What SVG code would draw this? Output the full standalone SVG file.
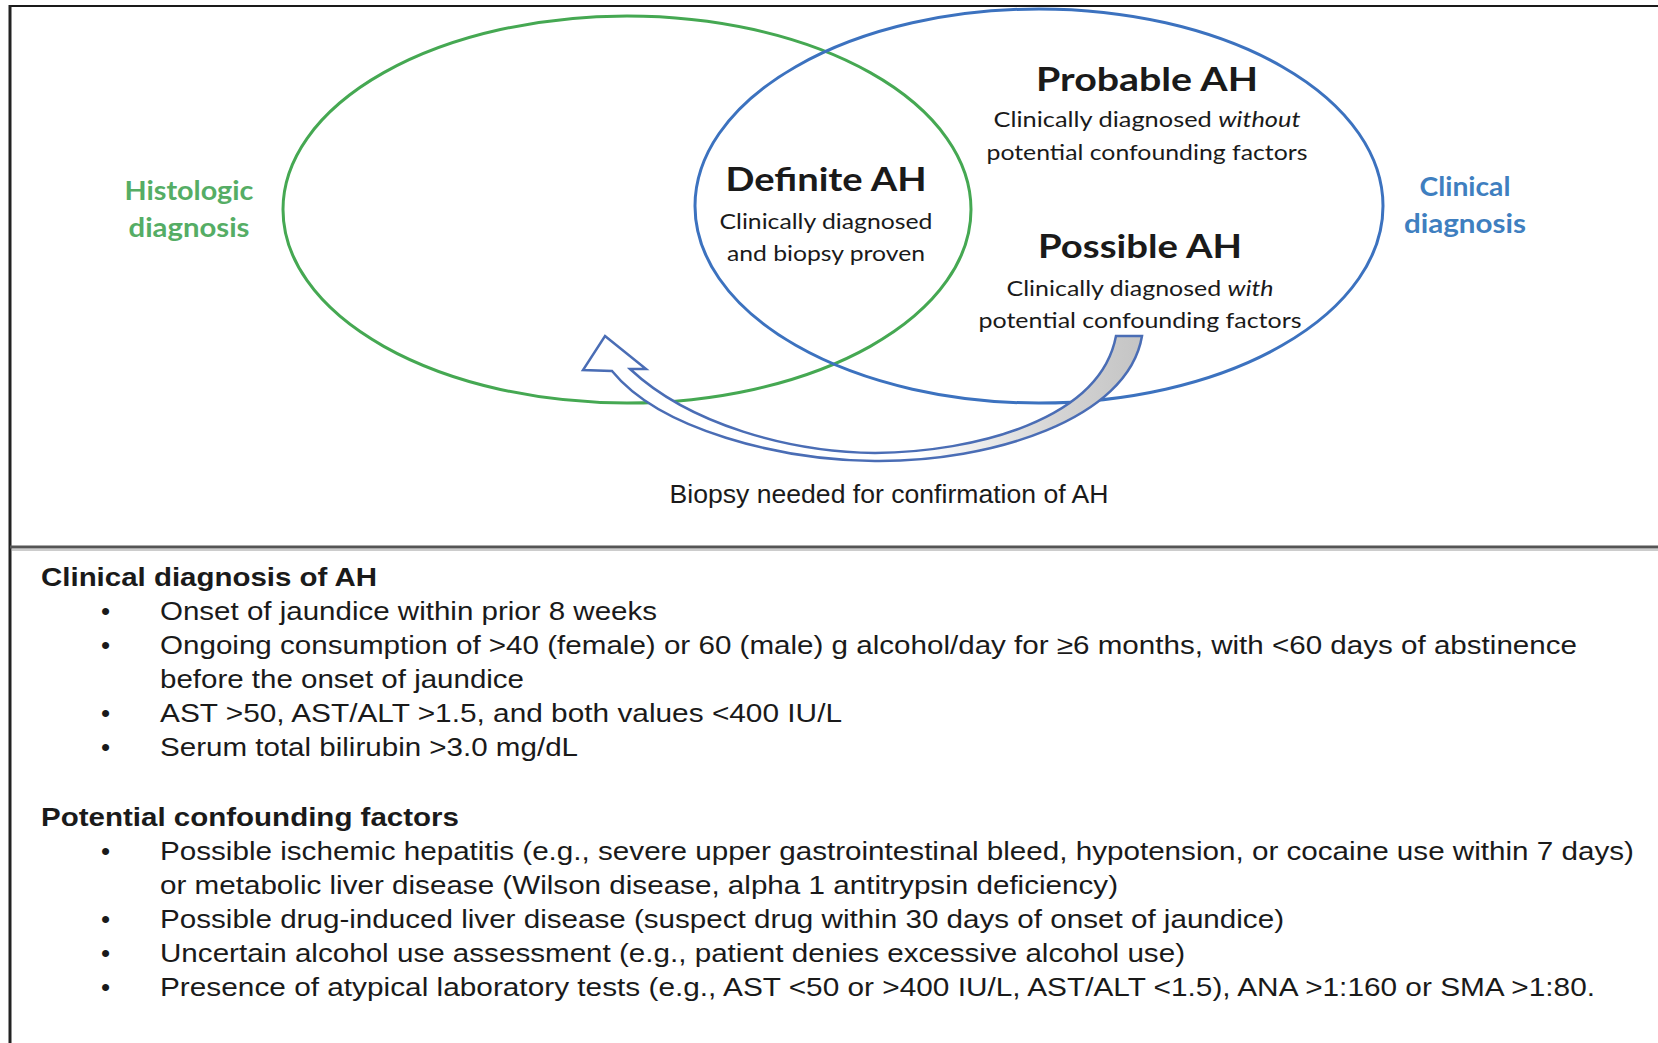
<svg xmlns="http://www.w3.org/2000/svg" width="1658" height="1043" viewBox="0 0 1658 1043">
  <style>
    .cal { font-family: Lato, "Open Sans", "Liberation Sans", sans-serif; fill: #1a1a1a; text-anchor: middle; }
    .title { font-weight: bold; font-size: 33px; }
    .sub { font-size: 22px; }
    .green { fill: #55ad65; font-weight: bold; font-size: 27px; }
    .blue { fill: #3f7fc0; font-weight: bold; font-size: 27px; }
    .ar { font-family: "Liberation Sans", Arial, sans-serif; fill: #1a1a1a; font-size: 26px; }
    .hd { font-weight: bold; }
  </style>
  <defs>
    <linearGradient id="arrowFill" x1="583" y1="0" x2="1142" y2="0" gradientUnits="userSpaceOnUse">
      <stop offset="0" stop-color="#ffffff"/>
      <stop offset="0.6" stop-color="#ffffff"/>
      <stop offset="0.85" stop-color="#d4d4d4"/>
      <stop offset="1" stop-color="#c4c4c4"/>
    </linearGradient>
  </defs>
  <rect width="1658" height="1043" fill="#ffffff"/>

  <!-- frame -->
  <g id="frame" fill="none">
    <line x1="9" y1="6" x2="1658" y2="6" stroke="#1a1a1a" stroke-width="2"/>
    <line x1="10" y1="5" x2="10" y2="1043" stroke="#222" stroke-width="3"/>
    <line x1="10" y1="547" x2="1658" y2="547" stroke="#555" stroke-width="3"/>
    <line x1="12" y1="550" x2="1658" y2="550" stroke="#bbb" stroke-width="1.5"/>
  </g>

  <!-- Venn sets -->
  <g id="histologic-set">
    <ellipse cx="627" cy="209.5" rx="344" ry="193.5" fill="none" stroke="#45a852" stroke-width="3"/>
    <text class="cal green" x="189" y="200" textLength="129" lengthAdjust="spacingAndGlyphs">Histologic</text>
    <text class="cal green" x="189" y="237" textLength="121" lengthAdjust="spacingAndGlyphs">diagnosis</text>
  </g>
  <g id="clinical-set">
    <ellipse cx="1039" cy="206" rx="344" ry="197" fill="none" stroke="#3c72bf" stroke-width="3"/>
    <text class="cal blue" x="1465" y="196" textLength="91" lengthAdjust="spacingAndGlyphs">Clinical</text>
    <text class="cal blue" x="1465" y="233" textLength="122" lengthAdjust="spacingAndGlyphs">diagnosis</text>
  </g>

  <g id="definite-ah">
    <text class="cal title" x="826" y="191" textLength="201" lengthAdjust="spacingAndGlyphs">Definite AH</text>
    <text class="cal sub" x="826" y="229" textLength="213" lengthAdjust="spacingAndGlyphs">Clinically diagnosed</text>
    <text class="cal sub" x="826" y="261" textLength="198" lengthAdjust="spacingAndGlyphs">and biopsy proven</text>
  </g>
  <g id="probable-ah">
    <text class="cal title" x="1147" y="91" textLength="222" lengthAdjust="spacingAndGlyphs">Probable AH</text>
    <text class="cal sub" x="1147" y="127" textLength="307" lengthAdjust="spacingAndGlyphs">Clinically diagnosed <tspan font-style="italic">without</tspan></text>
    <text class="cal sub" x="1147" y="160" textLength="321" lengthAdjust="spacingAndGlyphs">potential confounding factors</text>
  </g>
  <g id="possible-ah">
    <text class="cal title" x="1140" y="258" textLength="204" lengthAdjust="spacingAndGlyphs">Possible AH</text>
    <text class="cal sub" x="1140" y="296" textLength="267" lengthAdjust="spacingAndGlyphs">Clinically diagnosed <tspan font-style="italic">with</tspan></text>
    <text class="cal sub" x="1140" y="328" textLength="323" lengthAdjust="spacingAndGlyphs">potential confounding factors</text>
  </g>

  <!-- connector: curved block arrow -->
  <g id="connectors">
    <path d="M605,336 L646,369 L630,369 C690,425 790,452 875,453 C975,452 1100,420 1116,336 L1142,336 C1128,420 990,462 875,461 C780,460 660,430 612,371 L583,370 Z"
          fill="url(#arrowFill)" stroke="#4a6db5" stroke-width="2.5" stroke-linejoin="miter"/>
    <text class="ar" x="889" y="503" text-anchor="middle" font-size="23" textLength="439" lengthAdjust="spacingAndGlyphs">Biopsy needed for confirmation of AH</text>
  </g>

  <!-- criteria text -->
  <g id="criteria">
    <text class="ar hd" x="41" y="586" textLength="336" lengthAdjust="spacingAndGlyphs">Clinical diagnosis of AH</text>
    <text class="ar" x="101" y="620">•</text>
    <text class="ar" x="160" y="620" textLength="497" lengthAdjust="spacingAndGlyphs">Onset of jaundice within prior 8 weeks</text>
    <text class="ar" x="101" y="654">•</text>
    <text class="ar" x="160" y="654" textLength="1417" lengthAdjust="spacingAndGlyphs">Ongoing consumption of &gt;40 (female) or 60 (male) g alcohol/day for ≥6 months, with &lt;60 days of abstinence</text>
    <text class="ar" x="160" y="688" textLength="364" lengthAdjust="spacingAndGlyphs">before the onset of jaundice</text>
    <text class="ar" x="101" y="722">•</text>
    <text class="ar" x="160" y="722" textLength="682" lengthAdjust="spacingAndGlyphs">AST &gt;50, AST/ALT &gt;1.5, and both values &lt;400 IU/L</text>
    <text class="ar" x="101" y="756">•</text>
    <text class="ar" x="160" y="756" textLength="418" lengthAdjust="spacingAndGlyphs">Serum total bilirubin &gt;3.0 mg/dL</text>

    <text class="ar hd" x="41" y="826" textLength="418" lengthAdjust="spacingAndGlyphs">Potential confounding factors</text>
    <text class="ar" x="101" y="860">•</text>
    <text class="ar" x="160" y="860" textLength="1474" lengthAdjust="spacingAndGlyphs">Possible ischemic hepatitis (e.g., severe upper gastrointestinal bleed, hypotension, or cocaine use within 7 days)</text>
    <text class="ar" x="160" y="894" textLength="958" lengthAdjust="spacingAndGlyphs">or metabolic liver disease (Wilson disease, alpha 1 antitrypsin deficiency)</text>
    <text class="ar" x="101" y="928">•</text>
    <text class="ar" x="160" y="928" textLength="1124" lengthAdjust="spacingAndGlyphs">Possible drug-induced liver disease (suspect drug within 30 days of onset of jaundice)</text>
    <text class="ar" x="101" y="962">•</text>
    <text class="ar" x="160" y="962" textLength="1025" lengthAdjust="spacingAndGlyphs">Uncertain alcohol use assessment (e.g., patient denies excessive alcohol use)</text>
    <text class="ar" x="101" y="996">•</text>
    <text class="ar" x="160" y="996" textLength="1435" lengthAdjust="spacingAndGlyphs">Presence of atypical laboratory tests (e.g., AST &lt;50 or &gt;400 IU/L, AST/ALT &lt;1.5), ANA &gt;1:160 or SMA &gt;1:80.</text>
  </g>
</svg>
